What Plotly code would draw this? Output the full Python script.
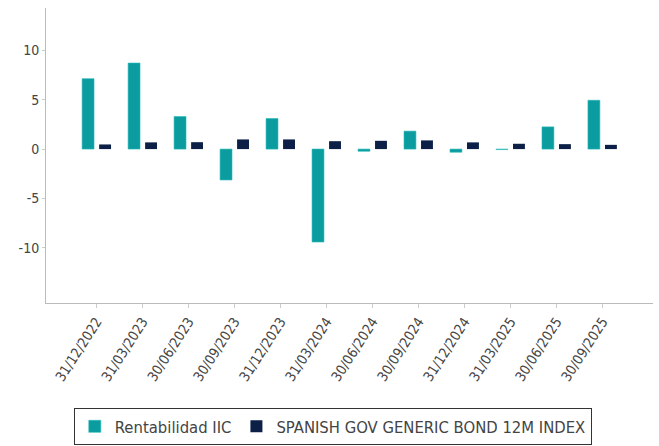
import plotly.graph_objects as go

categories = ["31/12/2022", "31/03/2023", "30/06/2023", "30/09/2023", "31/12/2023", "31/03/2024",
              "30/06/2024", "30/09/2024", "31/12/2024", "31/03/2025", "30/06/2025", "30/09/2025"]
rentabilidad_iic = [7.14, 8.72, 3.30, -3.13, 3.10, -9.42, -0.22, 1.82, -0.32, -0.05, 2.25, 4.95]
spanish_gov_bond = [0.47, 0.68, 0.70, 0.98, 0.98, 0.80, 0.84, 0.88, 0.68, 0.54, 0.50, 0.43]
y_ticks = [-10, -5, 0, 5, 10]
y_tick_labels = ["-10", "-5", "0", "5", "10"]

FONT = "DejaVu Sans Condensed, DejaVu Sans, sans-serif"

fig = go.Figure()
fig.add_trace(go.Bar(x=categories, y=rentabilidad_iic, name="Rentabilidad IIC",
                     marker=dict(color="#0a9c9e", line=dict(color="#2ab8ba", width=0.6))))
fig.add_trace(go.Bar(x=categories, y=spanish_gov_bond, name="SPANISH GOV GENERIC BOND 12M INDEX",
                     marker=dict(color="#0c1f47", line=dict(width=0))))

fig.update_layout(
    width=659, height=446,
    margin=dict(l=46, r=6, t=8, b=143),
    paper_bgcolor="white", plot_bgcolor="white",
    barmode="group", bargap=0.26, bargroupgap=0.3,
    font=dict(family=FONT, color="#444444", size=14),
    showlegend=True,
    legend=dict(orientation="h", xref="container", yref="container",
                x=0.505, xanchor="center", y=0.002, yanchor="bottom",
                bordercolor="#333333", borderwidth=1, bgcolor="white",
                font=dict(family=FONT, size=16.5, color="#444444"),
                itemwidth=30, tracegroupgap=0),
    xaxis=dict(type="category", range=[-1.10, 12.10], showline=True, linecolor="#bbbbbb",
               linewidth=1, ticks="outside", ticklen=4, tickcolor="#cccccc",
               tickangle=-57, tickfont=dict(family=FONT, size=14, color="#444444"),
               showgrid=False, zeroline=False, automargin=False),
    yaxis=dict(range=[-15.6, 14.3], tickvals=y_ticks, ticktext=y_tick_labels,
               showline=True, linecolor="#bbbbbb",
               linewidth=1, ticks="outside", ticklen=3, tickcolor="#cccccc",
               tickfont=dict(family=FONT, size=14, color="#444444"),
               showgrid=False, zeroline=False, automargin=False),
)

fig.write_html("out.html", config={"displayModeBar": False},
               post_script="document.body.style.margin='0';document.body.style.overflow='hidden';")
